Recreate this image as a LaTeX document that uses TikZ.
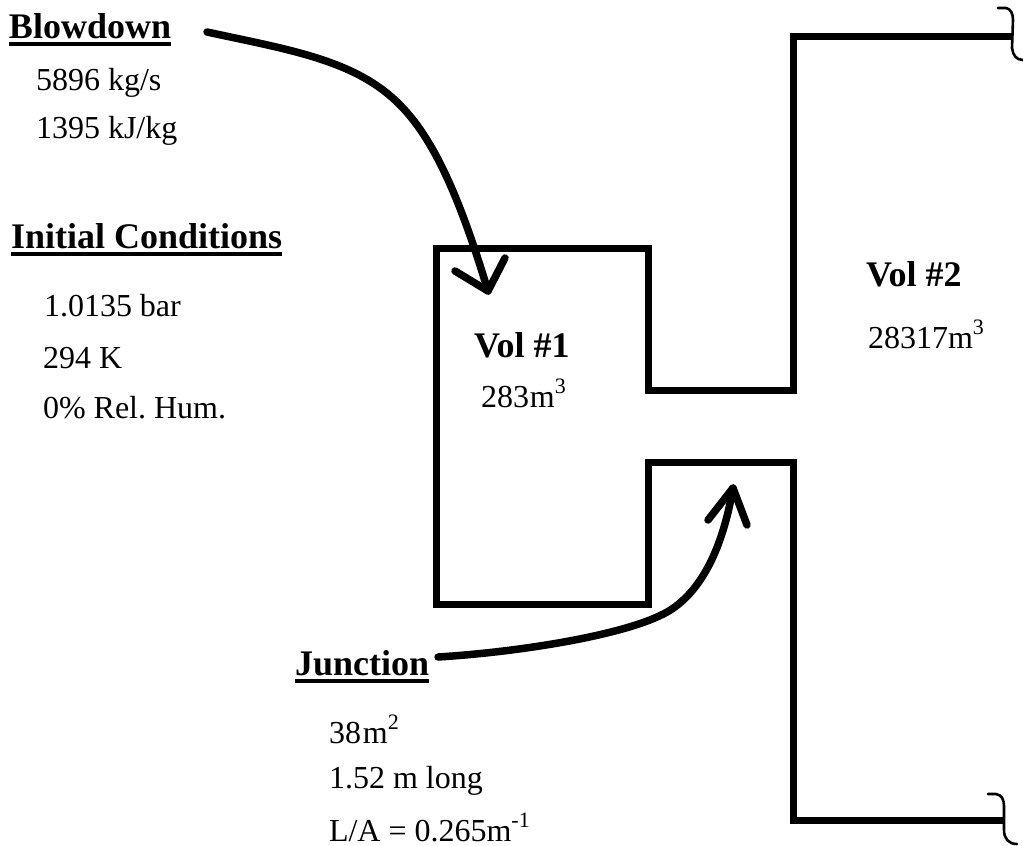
\documentclass[tikz,border=0pt]{standalone}
\usepackage{fontspec}
\setmainfont{Liberation Serif}
\frenchspacing
\newcommand{\supnum}[1]{\raisebox{0.42em}{\fontsize{22}{22}\selectfont #1}}
\newcommand{\ulbar}[1]{\setbox0\hbox{#1}\rlap{\raisebox{-7.5pt}{\rule{\wd0}{4pt}}}\box0}
\tikzset{
  x=1pt,y=-1pt,
  lbl/.style={anchor=base west,inner sep=0pt,outer sep=0pt,font=\fontsize{32}{36}\selectfont\frenchspacing},
  head/.style={anchor=base west,inner sep=0pt,outer sep=0pt,font=\fontsize{36}{40}\selectfont\bfseries},
  boldlbl/.style={anchor=base west,inner sep=0pt,outer sep=0pt,font=\fontsize{36}{40}\selectfont\bfseries},
  wall/.style={line width=7pt,line join=miter,line cap=butt},
  pointer/.style={line width=7.5pt,line cap=round,line join=round},
  bracket/.style={line width=2.6pt,line cap=round,line join=round}
}
\begin{document}
\begin{tikzpicture}
\useasboundingbox (0,0) rectangle (1023,846);
% walls
\draw[wall] (648,393.5) -- (648,248) -- (436,248) -- (436,604) -- (648,604) -- (648,462) -- (793,462) -- (793,820) -- (1005,820);
\draw[wall] (644.5,390) -- (793,390) -- (793,36) -- (1013,36);
% brackets
\coordinate (ta) at (998,8); \coordinate (tb) at (1013,20); \coordinate (tc) at (1012,48); \coordinate (td) at (1023,60);
\draw[bracket] (ta) -- (1006,8) .. controls (1011,9) and (1013,14) .. (tb) -- (tc) .. controls (1013,55) and (1016,60) .. (td);
\coordinate (ba) at (988,794); \coordinate (bb) at (1004,806); \coordinate (bc) at (1004,830); \coordinate (bd) at (1017,844);
\draw[bracket] (ba) -- (996,794) .. controls (1002,795) and (1004,800) .. (bb) -- (bc) .. controls (1004,838) and (1008,844) .. (bd);
% labels
\node[head] (blow) at (9,38) {\ulbar{Blowdown}};
\node[lbl] (b1) at (36,90) {5896 kg/s};
\node[lbl] (b2) at (36,138) {1395 kJ/kg};
\node[head] (ini) at (11,248) {\ulbar{Initial Conditions}};
\node[lbl] (i1) at (44,316) {1.0135 bar};
\node[lbl] (i2) at (43,368) {294 K};
\node[lbl] (i3) at (43,418) {0\% Rel. Hum.};
\node[boldlbl] (v1) at (474,357) {Vol \#1};
\node[lbl] (v1b) at (481,407) {283\kern1pt m\supnum{3}};
\node[boldlbl] (v2) at (866,286) {Vol \#2};
\node[lbl] (v2b) at (868,348) {28317m\supnum{3}};
\node[head] (jn) at (295,675) {\ulbar{Junction}};
\node[lbl] (j1) at (329,743) {38\kern2pt m\supnum{2}};
\node[lbl] (j2) at (329,788) {1.52 m long};
\node[lbl] (j3) at (329,841) {L/A = 0.265m\supnum{-1}};
% pointers
\coordinate (p1s) at (207,32); \coordinate (p1m) at (400,105); \coordinate (p1t) at (488,291);
\coordinate (p1l) at (455,271); \coordinate (p1r) at (505,258);
\draw[pointer] (p1s) .. controls (290,50) and (356,60) .. (p1m) .. controls (438,143) and (464,212) .. (p1t);
\draw[pointer] (p1l) -- (p1t) -- (p1r);
\coordinate (p2s) at (438,657); \coordinate (p2m) at (672,609); \coordinate (p2t) at (733,488);
\coordinate (p2l) at (708,520); \coordinate (p2r) at (747,525);
\draw[pointer] (p2s) .. controls (520,652) and (635,634) .. (p2m) .. controls (706,586) and (724,540) .. (p2t);
\draw[pointer] (p2l) -- (p2t) -- (p2r);
\end{tikzpicture}
\end{document}
